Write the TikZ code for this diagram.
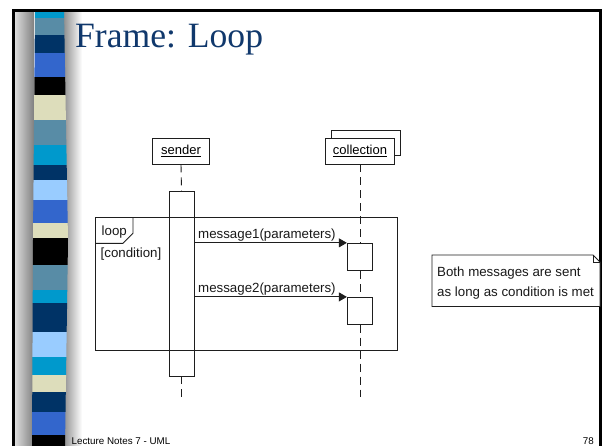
\documentclass[tikz,border=0pt]{standalone}
\usepackage{fontspec}
\setmainfont{Liberation Serif}
\newfontfamily\arialf{Liberation Sans}
\usetikzlibrary{arrows.meta}
\definecolor{cyanC}{RGB}{0,153,204}
\definecolor{steelC}{RGB}{88,140,166}
\definecolor{navyC}{RGB}{0,51,102}
\definecolor{royalC}{RGB}{51,102,204}
\definecolor{beigeC}{RGB}{221,221,187}
\definecolor{lightC}{RGB}{153,204,255}
\definecolor{titleC}{RGB}{16,56,108}
\definecolor{lineC}{RGB}{30,30,30}
\begin{document}
\begin{tikzpicture}[x=1pt,y=-1pt,
  objbox/.style={draw=lineC, line width=0.9pt, fill=white, inner sep=0pt,
    font=\arialf\fontsize{13}{15}\selectfont},
  actbox/.style={draw=lineC, line width=0.9pt, fill=white, inner sep=0pt},
  lifeline/.style={draw=lineC, line width=0.9pt, dash pattern=on 8pt off 5pt},
  msg/.style={draw=lineC, line width=0.9pt, -{Triangle[length=8pt,width=9pt]}},
  diagtext/.style={font=\arialf\fontsize{13.3}{20}\selectfont, inner sep=0pt, text=black!90},
  foot/.style={font=\arialf\fontsize{9.8}{12}\selectfont, inner sep=0pt},
  thin/.style={draw=lineC, line width=0.9pt}]
\useasboundingbox (0,0) rectangle (604,446);
\fill[white] (0,0) rectangle (604,446);
% shadows around strip
\shade[left color=black!12, right color=black!50] (14,10) rectangle (34,446);
\shade[left color=black!45, right color=white] (63,10) rectangle (82,446);
% strip
\begin{scope}
\clip (35,10) -- (64,10) -- (68,240) -- (65,446) -- (32,446) -- (33,240) -- cycle;
\fill[cyanC]  (30,10)  rectangle (70,18);
\fill[steelC] (30,18)  rectangle (70,35);
\fill[navyC]  (30,35)  rectangle (70,53);
\fill[royalC] (30,53)  rectangle (70,77);
\fill[black]  (30,77)  rectangle (70,95);
\fill[beigeC] (30,95)  rectangle (70,120);
\fill[steelC] (30,120) rectangle (70,145);
\fill[cyanC]  (30,145) rectangle (70,165);
\fill[navyC]  (30,165) rectangle (70,180);
\fill[lightC] (30,180) rectangle (70,200);
\fill[royalC] (30,200) rectangle (70,223);
\fill[beigeC] (30,223) rectangle (70,238);
\fill[black]  (30,238) rectangle (70,265);
\fill[steelC] (30,265) rectangle (70,290);
\fill[cyanC]  (30,290) rectangle (70,303);
\fill[navyC]  (30,303) rectangle (70,332);
\fill[lightC] (30,332) rectangle (70,357);
\fill[cyanC]  (30,357) rectangle (70,375);
\fill[beigeC] (30,375) rectangle (70,392);
\fill[navyC]  (30,392) rectangle (70,412);
\fill[royalC] (30,412) rectangle (70,435);
\fill[black]  (30,435) rectangle (70,446);
\end{scope}
% slide border
\draw[line width=2.5pt, black] (13.5,446) -- (13.5,10.5) -- (600.5,10.5) -- (600.5,446);
% title
\node[anchor=base west, inner sep=0pt, text=titleC, font=\fontsize{35.6}{40}\selectfont] (title) at (75,48) {Frame: Loop};
% objects
\node[objbox, minimum width=69pt, minimum height=25pt] (collback) at (366.2,142.5) {};
\node[objbox, minimum width=56.3pt, minimum height=26pt] (sender) at (181,151) {\underline{sender}};
\node[objbox, minimum width=68.6pt, minimum height=26pt] (collection) at (360,151) {\underline{collection}};
% activations
\node[actbox, minimum width=25pt, minimum height=185pt] (act0) at (181.5,283.5) {};
\node[actbox, minimum width=25.4pt, minimum height=27.4pt] (actA) at (360,257) {};
\node[actbox, minimum width=25.4pt, minimum height=26.7pt] (actB) at (360,310.7) {};
\coordinate (sendEnd) at (181.5,397);
\coordinate (collEnd) at (360,397);
% lifelines
\draw[lifeline] (sender.south) -- (act0.north);
\draw[lifeline] (act0.south) -- (sendEnd);
\draw[lifeline] (collection.south) -- (actA.north);
\draw[lifeline] (actA.south) -- (actB.north);
\draw[lifeline] (actB.south) -- (collEnd);
% loop frame
\node[thin, minimum width=302.3pt, minimum height=132.7pt, anchor=north west, inner sep=0pt] (loop) at (95,217.3) {};
\draw[thin] ([xshift=38pt]loop.north west) -- ++(0,16) -- ++(-10,10) -- ([yshift=-26pt]loop.north west);
\node[diagtext, anchor=base west] (looplbl) at (101.5,235) {loop};
\node[diagtext, anchor=base west] (cond) at (100.5,257.5) {[condition]};
% messages
\draw[msg] (act0.east |- actA.north west) -- (actA.north west);
\draw[msg] (act0.east |- actB.north west) -- (actB.north west);
\node[diagtext, anchor=base west] (m1) at (198,238.5) {message1(parameters)};
\node[diagtext, anchor=base west] (m2) at (198,292.5) {message2(parameters)};
% note
\draw[thin, fill=white] (432,255) -- (593,255) -- (600,262) -- (600,306.5) -- (432,306.5) -- cycle;
\draw[thin] (593,255) -- (593,262) -- (600,262);
\node[diagtext, anchor=base west] (note1) at (437,276) {Both messages are sent};
\node[diagtext, anchor=base west] (note2) at (437,296) {as long as condition is met};
% footer
\node[foot, anchor=base west] (footl) at (71.5,444.5) {Lecture Notes 7 - UML};
\node[foot, anchor=base east] (footr) at (594,444.5) {78};
\end{tikzpicture}
\end{document}
